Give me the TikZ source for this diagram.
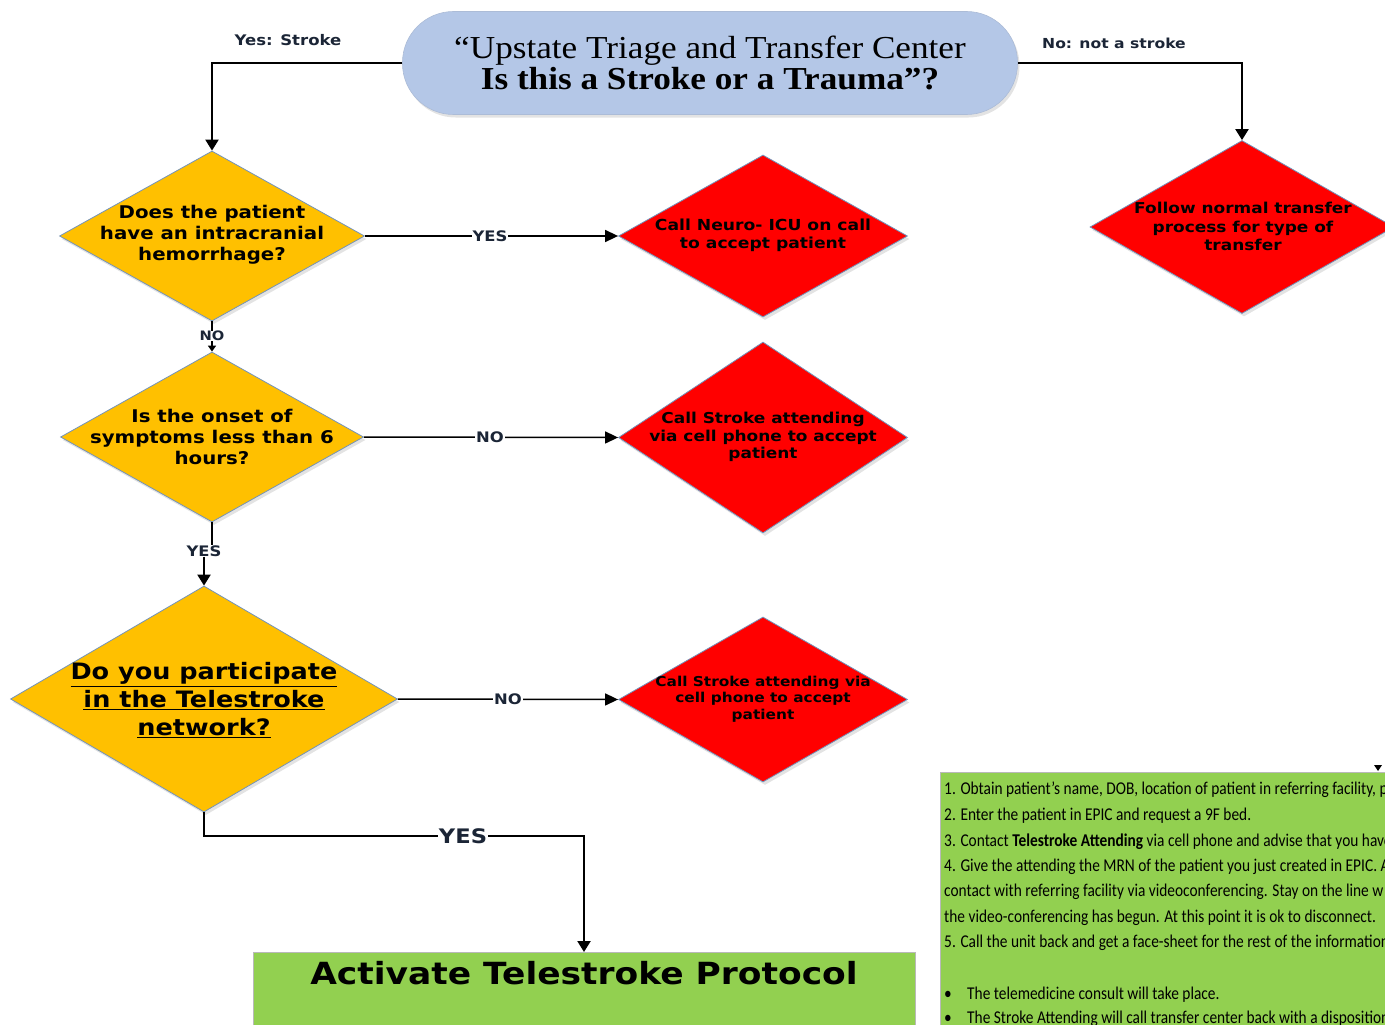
\documentclass[tikz,border=0pt]{standalone}
\usepackage{fontspec}
\setmainfont{Liberation Serif}
\newfontfamily\tserif[FakeStretch=1.1]{Liberation Serif}
\newfontfamily\vsans[FakeStretch=1.13]{DejaVu Sans}
\newfontfamily\calib[FakeStretch=0.855]{Carlito}
\usetikzlibrary{shapes.geometric,arrows.meta,shadows}
\definecolor{termblue}{HTML}{B4C7E7}
\definecolor{yel}{HTML}{FFC000}
\definecolor{redd}{HTML}{FF0000}
\definecolor{grn}{HTML}{92D050}
\definecolor{edgec}{HTML}{7393BA}
\definecolor{lbl}{HTML}{1B2536}
\newcommand\fsz[2]{\fontsize{#1}{#2}\selectfont}
\begin{document}
\begin{tikzpicture}[x=1pt,y=-1pt,
  conn/.style={line width=2.2pt,-{Triangle[width=13pt,length=11pt]}},
  hconn/.style={line width=1.5pt,-{Triangle[width=12pt,length=13pt]}},
  sconn/.style={line width=2.5pt,-{Triangle[width=8pt,length=6pt]}},
  plainconn/.style={line width=2.5pt},
  lab/.style={font=\vsans\bfseries\fsz{14.5}{14.5},text=lbl,fill=white,inner sep=1pt},
  toplab/.style={font=\vsans\bfseries\fsz{14.6}{14.6},text=lbl,inner sep=0pt},
  shad/.style={drop shadow={opacity=0.22,shadow xshift=2pt,shadow yshift=-3pt}},
  ydia/.style={diamond,draw=edgec,line width=0.8pt,fill=yel,inner sep=0pt,shad},
  rdia/.style={diamond,draw=edgec,line width=0.8pt,fill=redd,inner sep=0pt,shad},
  dtext/.style={font=\vsans\bfseries\fsz{17.5}{21},align=center,inner sep=0pt,text=black},
  rtext/.style={font=\vsans\bfseries\fsz{15}{17.5},align=center,inner sep=0pt,text=black},
  rline/.style={font=\calib\fsz{18}{18},anchor=base west,inner sep=0pt,text=black}
]
\useasboundingbox (0,0) rectangle (1385,1025);

% top terminator
\node[rectangle,rounded corners=51pt,minimum width=615pt,minimum height=103pt,
      fill=termblue,draw=termblue!85!gray,line width=0.6pt,shad,
      align=center,font=\tserif\fsz{32}{27}] (top) at (710,63)
  {“Upstate Triage and Transfer Center\\\textbf{Is this a Stroke or a Trauma”?}};

% diamonds
\node[ydia,minimum width=305pt,minimum height=170pt] (d1) at (212,236) {};
\node[dtext] (t1) at (212,235) {Does the patient\\have an intracranial\\hemorrhage?};
\node[rdia,minimum width=289pt,minimum height=162pt] (r1) at (763,236) {};
\node[rtext,font=\vsans\bfseries\fsz{15.2}{17.5}] (tr1) at (763,235.5) {Call Neuro- ICU on call\\to accept patient};
\node[rdia,minimum width=304pt,minimum height=173pt] (r0) at (1242,227) {};
\node[rtext,font=\vsans\bfseries\fsz{15}{18.5}] (tr0) at (1243,226.5) {Follow normal transfer\\process for type of\\transfer};

\node[ydia,minimum width=303pt,minimum height=170pt] (d2) at (212,437) {};
\node[dtext] (t2) at (212,437) {Is the onset of\\symptoms less than 6\\hours?};
\node[rdia,minimum width=289pt,minimum height=191pt] (r2) at (763,437.5) {};
\node[rtext] (tr2) at (763,437) {Call Stroke attending\\via cell phone to accept\\patient};

\node[ydia,minimum width=387pt,minimum height=226pt] (d3) at (204,699) {};
\node[dtext,font=\vsans\bfseries\fsz{22.6}{28}] (t3) at (204,700)
  {\underline{Do you participate}\\\underline{in the Telestroke}\\\underline{network?}};
\node[rdia,minimum width=289pt,minimum height=165pt] (r3) at (763,699.5) {};
\node[rtext,font=\vsans\bfseries\fsz{13.6}{16.5}] (tr3) at (763,699) {Call Stroke attending via\\cell phone to accept\\patient};

% activate box
\node[rectangle,fill=grn,draw=gray!55,line width=0.6pt,minimum width=662pt,minimum height=100pt,
      anchor=north,inner sep=0pt] (act) at (584,952) {};
\node[font=\vsans\bfseries\fsz{30.5}{30.5},inner sep=0pt] (actt) at (584,973) {Activate Telestroke Protocol};

% right green box
\node[rectangle,fill=grn,draw=gray!55,line width=0.6pt,minimum width=470pt,minimum height=280pt,
      anchor=north west,inner sep=0pt] (info) at (940,772) {};
\begin{scope}
\clip (940,772) rectangle (1385,1025);
\node[rline] (l1) at (944,794) {1. Obtain patient’s name, DOB, location of patient in referring facility, p};
\node[rline] (l2) at (944,820) {2. Enter the patient in EPIC and request a 9F bed.};
\node[rline] (l3) at (944,846) {3. Contact \textbf{Telestroke Attending} via cell phone and advise that you have};
\node[rline] (l4) at (944,871) {4. Give the attending the MRN of the patient you just created in EPIC. A};
\node[rline] (l5) at (944,896) {contact with referring facility via videoconferencing. Stay on the line w};
\node[rline] (l6) at (944,922) {the video-conferencing has begun. At this point it is ok to disconnect.};
\node[rline] (l7) at (944,947) {5. Call the unit back and get a face-sheet for the rest of the information};
\node[rline] (b1) at (944,999) {•};
\node[rline] (l8) at (967,999) {The telemedicine consult will take place.};
\node[rline] (b2) at (944,1023) {•};
\node[rline] (l9) at (967,1023) {The Stroke Attending will call transfer center back with a disposition};
\end{scope}
\fill (1374,765) -- (1382,765) -- (1378,771) -- cycle;

% connectors
\draw[conn] (top.west) -| (d1.north);
\draw[conn] (top.east) -| (r0.north);
\node[toplab] (ys) at (288,40) {Yes: Stroke};
\node[toplab,font=\vsans\bfseries\fsz{13.8}{13.8}] (ns) at (1114,43) {No: not a stroke};

\draw[hconn] (d1.east) -- (r1.west);
\node[lab] (y1) at (490,236) {YES};
\draw[hconn] (d2.east) -- (r2.west);
\node[lab] (n2) at (490,437) {NO};
\draw[hconn] (d3.east) -- (r3.west);
\node[lab] (n3) at (508,699) {NO};

\draw[sconn] (d1.south) -- (d2.north);
\node[lab,font=\vsans\bfseries\fsz{13}{13},inner sep=0.5pt] (n1) at (212,336) {NO};

\node[lab,inner sep=0pt] (y2) at (204,551) {YES};
\draw[plainconn] (d2.south) -- (d2.south |- y2.north);
\draw[conn] (d3.north |- y2.south) -- (d3.north);

\coordinate (bl) at (204,836);
\coordinate (br) at (584,836);
\draw[conn] (d3.south) -- (bl) -- (br) -- (act.north);
\node[lab,font=\vsans\bfseries\fsz{20}{20}] (yb) at (463,836) {YES};
\end{tikzpicture}
\end{document}
